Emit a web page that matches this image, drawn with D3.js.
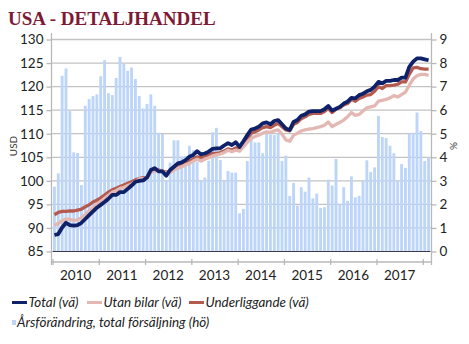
<!DOCTYPE html>
<html><head><meta charset="utf-8">
<script src="https://cdn.jsdelivr.net/npm/d3@7"></script>
<style>
body{margin:0;background:#fff;}
svg{display:block;}
</style></head>
<body><svg id="c" width="469" height="344"></svg>
<script>
const years = ["2010","2011","2012","2013","2014","2015","2016","2017"];
const leftTicks = [85,90,95,100,105,110,115,120,125,130];
const rightTicks = [0,1,2,3,4,5,6,7,8,9];
const total = [88.5,88.7,90.1,91.1,90.6,90.5,90.6,91.1,91.9,92.7,93.5,94.3,
94.9,95.5,96.2,97.0,97.0,97.6,97.6,98.3,99.0,99.8,100.0,100.1,
100.7,102.3,102.7,102.0,102.0,101.1,102.3,103.0,103.7,103.9,104.4,105.1,
105.5,106.3,105.6,105.8,106.2,106.8,106.9,106.9,107.5,108.0,107.6,108.2,
107.2,108.4,109.7,110.9,111.1,111.5,112.2,112.4,112.0,112.7,112.9,112.0,
111.1,110.8,112.5,112.9,113.8,114.1,114.7,114.8,114.8,114.8,115.2,115.9,
114.9,115.3,115.7,116.4,116.8,117.6,117.5,118.2,118.5,119.0,119.3,120.0,
121.0,120.7,121.2,121.2,121.4,121.4,121.9,121.9,124.2,125.3,126.0,126.0,
125.8,125.6];
const utanBilar = [90.5,91.0,91.5,91.9,91.8,91.6,91.7,92.2,92.8,93.6,94.3,95.0,
95.6,96.3,96.9,97.6,97.9,98.4,98.6,99.0,99.3,99.8,100.4,100.5,
100.7,101.8,102.1,102.1,102.0,101.6,101.8,102.3,102.7,103.0,103.4,103.7,
104.2,104.6,104.2,104.6,104.9,105.3,105.5,105.7,106.0,106.5,106.2,106.5,
106.3,107.2,108.2,109.0,109.4,109.7,110.1,110.4,110.3,110.6,110.8,109.9,
108.7,108.4,109.7,110.1,110.6,110.8,111.0,111.1,111.3,111.5,111.8,112.5,
111.5,112.0,112.4,112.9,113.6,114.5,113.9,114.1,114.8,115.5,115.7,115.9,
116.9,117.1,117.3,117.6,118.1,117.8,118.3,118.8,120.3,121.6,122.3,122.6,
122.6,122.4];
const underliggande = [92.8,93.3,93.5,93.5,93.6,93.6,93.8,94.0,94.5,94.9,95.5,95.9,
96.4,97.0,97.6,98.1,98.4,98.8,99.1,99.5,99.8,100.2,100.5,100.7,
100.7,102.0,102.3,102.3,102.1,101.8,102.1,102.7,103.0,103.4,103.7,104.2,
104.6,105.1,104.9,105.1,105.5,105.8,105.8,106.0,106.3,106.8,106.5,107.0,
106.9,108.0,109.0,110.1,110.4,110.8,111.3,111.5,111.3,111.8,112.2,111.5,
110.8,110.6,112.0,112.4,113.2,113.6,114.1,114.3,114.3,114.3,114.7,115.4,
114.5,115.2,115.5,116.1,116.4,117.3,116.9,117.5,117.8,118.2,118.3,119.0,
120.0,119.6,120.2,120.2,120.3,120.5,121.0,121.0,122.6,124.0,124.1,123.8,
123.7,123.7];
const yoy = [2.75,3.32,7.46,7.77,5.96,4.21,4.18,2.82,6.19,6.47,6.6,6.67,
7.44,8.12,6.72,6.64,7.37,8.26,7.98,7.67,7.81,7.32,6.6,6.07,
6.26,6.67,6.19,5.04,4.99,3.0,3.77,4.72,4.72,4.03,4.05,4.49,
4.3,3.81,3.0,3.14,3.85,5.06,5.25,3.88,3.0,3.42,3.35,3.35,
1.62,1.81,3.84,5.0,4.63,4.63,4.17,5.0,4.97,4.94,5.0,3.84,
4.07,2.36,2.91,1.95,2.73,2.54,3.14,2.26,2.46,1.85,1.88,3.05,
2.8,3.93,2.02,2.73,2.15,3.19,2.3,2.36,3.0,3.87,3.38,3.57,
5.76,4.86,4.82,4.49,4.17,3.0,3.71,3.55,5.01,5.04,5.9,5.11,
3.84,4.0];

const C = {navy:"#0e2169", red:"#b45a4e", pink:"#e3b8b3", bar:"#bcd5f8", grid:"#c3c3c3", axis:"#b8b8b8", title:"#7c1a35"};
const font = "Lato, 'Open Sans', sans-serif";
const svg = d3.select("#c");
const L = 52.5, R = 430.5, T = 39.5, B = 251.5;
const n = yoy.length;
const x = d3.scaleBand().domain(d3.range(n)).range([L, R]).paddingInner(0.26).paddingOuter(0.13);
const xm = d3.scaleLinear().domain([0, n]).range([L, R]);
const yL = d3.scaleLinear().domain([85,130]).range([B, T]);
const yR = d3.scaleLinear().domain([0,9]).range([B, T]);
const cx = i => x(i) + x.bandwidth()/2;

// title
svg.append("text").attr("x",8).attr("y",25).text("USA - DETALJHANDEL")
  .attr("font-family","'Liberation Serif', 'DejaVu Serif', serif").attr("font-weight","bold")
  .attr("font-size",19).attr("fill",C.title);

// gridlines
svg.append("g").selectAll("line").data(leftTicks.filter(v=>v>85)).join("line")
  .attr("x1",L-1).attr("x2",431.5).attr("y1",d=>yL(d)).attr("y2",d=>yL(d))
  .attr("stroke",C.grid).attr("stroke-width",1.3);

// bars
svg.append("g").selectAll("rect").data(yoy).join("rect")
  .attr("x",(d,i)=>x(i)).attr("width",x.bandwidth())
  .attr("y",d=>yR(d)).attr("height",d=>yR(0)-yR(d)).attr("fill",C.bar);

// baseline
svg.append("line").attr("x1",L).attr("x2",R).attr("y1",B).attr("y2",B).attr("stroke","#3a3a4a").attr("stroke-width",1);

// lines
const line = d3.line().x((d,i)=>cx(i)).y(d=>yL(d)).curve(d3.curveLinear);
[[underliggande,C.red,3.3],[utanBilar,C.pink,3.3],[total,C.navy,3.8]].forEach(([data,col,w])=>{
  svg.append("path").datum(data).attr("d",line).attr("fill","none").attr("stroke",col)
    .attr("stroke-width",w).attr("stroke-linejoin","round").attr("stroke-linecap","butt");
});

// left axis
const gl = svg.append("g").attr("transform",`translate(${L-1},0)`)
  .call(d3.axisLeft(yL).tickValues(leftTicks).tickSize(5).tickPadding(3));
gl.select(".domain").remove();
gl.append("line").attr("x1",0).attr("x2",0).attr("y1",33).attr("y2",265).attr("stroke",C.axis).attr("stroke-width",1.3);
gl.selectAll(".tick line").attr("stroke",C.axis).attr("stroke-width",1.3);
gl.selectAll(".tick text").attr("font-family",font).attr("font-size",13.5).attr("fill","#222");

// right axis
const gr = svg.append("g").attr("transform",`translate(431.5,0)`)
  .call(d3.axisRight(yR).tickValues(rightTicks).tickSize(5).tickPadding(3));
gr.select(".domain").remove();
gr.append("line").attr("x1",0).attr("x2",0).attr("y1",33).attr("y2",265).attr("stroke",C.axis).attr("stroke-width",1.3);
gr.selectAll(".tick line").attr("stroke",C.axis).attr("stroke-width",1.3);
gr.selectAll(".tick text").attr("font-family",font).attr("font-size",13.5).attr("fill","#222");

// bottom axis
const gb = svg.append("g").attr("transform",`translate(0,262)`)
  .call(d3.axisBottom(xm).tickValues(d3.range(0, n, 12)).tickSize(4).tickFormat(""));
gb.select(".domain").attr("stroke",C.axis).attr("stroke-width",1.3).attr("d",`M${L-1},0H431.5`);
gb.selectAll(".tick line").attr("stroke",C.axis).attr("stroke-width",1.3).attr("y1",-3).attr("y2",3);
svg.append("g").selectAll("text").data(years).join("text")
  .attr("x",(d,i)=>xm(i*12+6)).attr("y",280).attr("text-anchor","middle")
  .attr("font-family",font).attr("font-size",13.5).attr("fill","#222").text(d=>d);

// axis titles
svg.append("text").attr("transform","translate(17,146) rotate(-90)").attr("text-anchor","middle")
  .attr("font-family",font).attr("font-size",10).attr("fill","#333").text("USD");
svg.append("text").attr("transform","translate(450,146) rotate(90)").attr("text-anchor","middle")
  .attr("font-family",font).attr("font-size",10).attr("fill","#333").text("%");

// legend
const lg = svg.append("g").attr("font-family",font).attr("font-style","italic").attr("font-size",13.4).attr("fill","#222");
const items = [["Total (vä)",C.navy,12],["Utan bilar (vä)",C.pink,87],["Underliggande (vä)",C.red,189]];
items.forEach(([t,col,x0])=>{
  lg.append("line").attr("x1",x0).attr("x2",x0+15).attr("y1",302.5).attr("y2",302.5).attr("stroke",col).attr("stroke-width",3);
  lg.append("text").attr("x",x0+16.5).attr("y",307).text(t);
});
lg.append("rect").attr("x",12).attr("y",320).attr("width",4).attr("height",5).attr("fill",C.bar);
lg.append("text").attr("x",17).attr("y",327).text("Årsförändring, total försäljning (hö)");
</script></body></html>
